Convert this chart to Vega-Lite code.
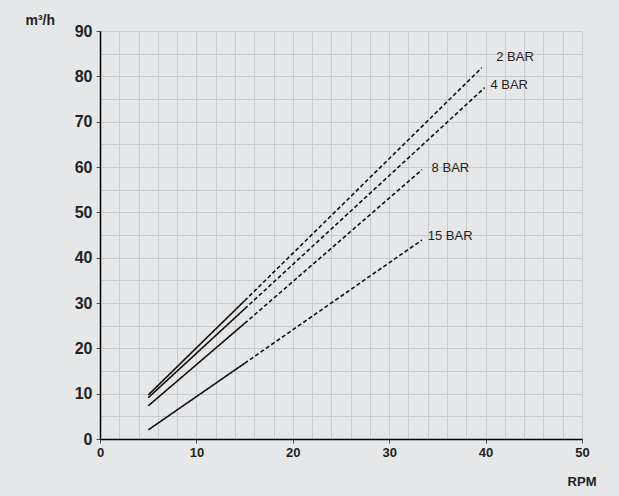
{
  "$schema": "https://vega.github.io/schema/vega-lite/v6.json",
  "width": 482,
  "height": 408,
  "autosize": {"type": "none"},
  "padding": {"left": 100, "top": 31, "right": 37, "bottom": 57},
  "background": "#e6e7e9",
  "config": {
    "view": {"stroke": null},
    "font": "Liberation Sans"
  },
  "datasets": {
    "curves": [
      {"series": "2 BAR", "rpm": 5, "flow": 9.7, "part": "solid"},
      {"series": "2 BAR", "rpm": 15, "flow": 30.5, "part": "solid"},
      {"series": "2 BAR", "rpm": 15, "flow": 30.5, "part": "dashed"},
      {"series": "2 BAR", "rpm": 39.6, "flow": 81.9, "part": "dashed"},
      {"series": "4 BAR", "rpm": 5, "flow": 9.1, "part": "solid"},
      {"series": "4 BAR", "rpm": 15, "flow": 28.7, "part": "solid"},
      {"series": "4 BAR", "rpm": 15, "flow": 28.7, "part": "dashed"},
      {"series": "4 BAR", "rpm": 39.9, "flow": 77.5, "part": "dashed"},
      {"series": "8 BAR", "rpm": 5, "flow": 7.3, "part": "solid"},
      {"series": "8 BAR", "rpm": 15, "flow": 25.5, "part": "solid"},
      {"series": "8 BAR", "rpm": 15, "flow": 25.5, "part": "dashed"},
      {"series": "8 BAR", "rpm": 33.4, "flow": 59.4, "part": "dashed"},
      {"series": "15 BAR", "rpm": 5, "flow": 2.0, "part": "solid"},
      {"series": "15 BAR", "rpm": 15, "flow": 16.7, "part": "solid"},
      {"series": "15 BAR", "rpm": 15, "flow": 16.7, "part": "dashed"},
      {"series": "15 BAR", "rpm": 33.4, "flow": 43.9, "part": "dashed"}
    ],
    "labels": [
      {"label": "2 BAR", "rpm": 41.1, "flow": 84.3},
      {"label": "4 BAR", "rpm": 40.5, "flow": 78.1},
      {"label": "8 BAR", "rpm": 34.4, "flow": 59.8},
      {"label": "15 BAR", "rpm": 34.0, "flow": 44.8}
    ]
  },
  "layer": [
    {
      "data": {"name": "curves"},
      "mark": {"type": "line", "color": "#111111", "strokeWidth": 1.6},
      "encoding": {
        "x": {
          "field": "rpm", "type": "quantitative",
          "scale": {"domain": [0, 50], "nice": false, "zero": true},
          "axis": {
            "values": [0,2,4,6,8,10,12,14,16,18,20,22,24,26,28,30,32,34,36,38,40,42,44,46,48,50],
            "tickCount": 100,
            "format": "d",
            "labelExpr": "datum.value % 10 === 0 ? datum.label : ''",
            "labelOverlap": false,
            "grid": true,
            "gridColor": "#c9cacc",
            "gridOpacity": 1,
            "gridWidth": 1,
            "domainColor": "#000000",
            "domainWidth": 1.5,
            "tickColor": "#555555",
            "tickSize": 4,
            "tickOpacity": {"condition": {"test": "datum.value % 10 === 0", "value": 1}, "value": 0},
            "labelFont": "Liberation Sans",
            "labelFontWeight": "bold",
            "labelFontSize": 13,
            "labelColor": "#222222",
            "labelPadding": 3,
            "labelFlush": false,
            "title": "RPM",
            "titleFont": "Liberation Sans",
            "titleFontWeight": "bold",
            "titleFontSize": 13,
            "titleColor": "#222222",
            "titleAlign": "right",
            "titleBaseline": "alphabetic",
            "titleAnchor": null,
            "titleX": 496,
            "titleY": 46
          }
        },
        "y": {
          "field": "flow", "type": "quantitative",
          "scale": {"domain": [0, 90], "nice": false},
          "axis": {
            "values": [0,5,10,15,20,25,30,35,40,45,50,55,60,65,70,75,80,85,90],
            "tickCount": 100,
            "format": "d",
            "labelExpr": "datum.value % 10 === 0 ? datum.label : ''",
            "labelOverlap": false,
            "grid": true,
            "gridColor": "#c9cacc",
            "gridOpacity": 1,
            "gridWidth": 1,
            "domainColor": "#000000",
            "domainWidth": 1.5,
            "tickColor": "#555555",
            "tickSize": 4,
            "tickOpacity": {"condition": {"test": "datum.value % 10 === 0", "value": 1}, "value": 0},
            "labelFont": "Liberation Sans",
            "labelFontWeight": "bold",
            "labelFontSize": 16,
            "labelColor": "#222222",
            "labelPadding": 4,
            "labelFlush": false,
            "title": "m³/h",
            "titleFont": "Liberation Sans",
            "titleFontWeight": "bold",
            "titleFontSize": 14,
            "titleColor": "#222222",
            "titleAngle": 0,
            "titleAlign": "left",
            "titleBaseline": "alphabetic",
            "titleAnchor": null,
            "titleX": -75,
            "titleY": -7
          }
        },
        "detail": {"field": "series"},
        "strokeDash": {
          "field": "part", "type": "nominal",
          "scale": {"domain": ["solid", "dashed"], "range": [[1, 0], [4, 2.5]]},
          "legend": null
        }
      }
    },
    {
      "data": {"name": "labels"},
      "mark": {"type": "text", "align": "left", "baseline": "middle", "fontSize": 13, "font": "Liberation Sans", "color": "#222222"},
      "encoding": {
        "x": {"field": "rpm", "type": "quantitative"},
        "y": {"field": "flow", "type": "quantitative"},
        "text": {"field": "label"}
      }
    }
  ]
}
